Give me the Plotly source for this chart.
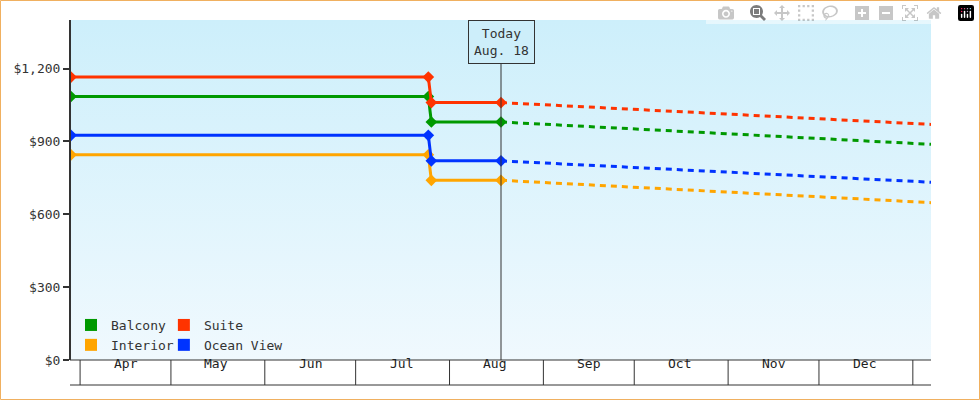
import plotly.graph_objects as go

# Data
series = ['Balcony', 'Suite', 'Interior', 'Ocean View']
colors = ['#009900', '#ff3300', '#ffa500', '#0033ff']
legend_ids = ['legend', 'legend2', 'legend', 'legend2']
hist_dates = ['2024-03-29', '2024-07-25', '2024-07-26', '2024-08-18']
balcony_hist = [1085, 1085, 980, 980]
suite_hist = [1165, 1165, 1060, 1060]
interior_hist = [845, 845, 740, 740]
ocean_hist = [925, 925, 820, 820]
proj_dates = ['2024-08-18', '2025-01-07']
balcony_proj = [980, 888]
suite_proj = [1060, 970]
interior_proj = [740, 648]
ocean_proj = [820, 732]
month_starts = ['2024-04-01', '2024-05-01', '2024-06-01', '2024-07-01', '2024-08-01',
                '2024-09-01', '2024-10-01', '2024-11-01', '2024-12-01', '2025-01-01']
month_mids = ['2024-04-16', '2024-05-16', '2024-06-16', '2024-07-16', '2024-08-16',
              '2024-09-16', '2024-10-16', '2024-11-16', '2024-12-16']
month_labels = ['Apr', 'May', 'Jun', 'Jul', 'Aug', 'Sep', 'Oct', 'Nov', 'Dec']
today = '2024-08-18'
x_range = ['2024-03-29', '2025-01-07']
y_ticks = [0, 300, 600, 900, 1200]
y_labels = ['$0', '$300', '$600', '$900', '$1,200']

hist = [balcony_hist, suite_hist, interior_hist, ocean_hist]
proj = [balcony_proj, suite_proj, interior_proj, ocean_proj]
FONT = 'DejaVu Sans Mono'

fig = go.Figure()

# gradient background
fig.add_trace(go.Scatter(
    x=[x_range[0], x_range[1], x_range[1], x_range[0], x_range[0]],
    y=[0, 0, 1400, 1400, 0], mode='lines', line=dict(width=0),
    fill='toself', fillgradient=dict(type='vertical',
                                     colorscale=[[0, '#f0f9fe'], [1, '#cdeffb']]),
    showlegend=False, hoverinfo='skip'))

for name, c, h, p in zip(series, colors, hist, proj):
    fig.add_trace(go.Scatter(x=hist_dates, y=h, mode='lines+markers',
                             line=dict(color=c, width=3),
                             marker=dict(symbol='diamond', size=9, color=c),
                             showlegend=False, name=name))
    fig.add_trace(go.Scatter(x=proj_dates, y=p, mode='lines',
                             line=dict(color=c, width=3, dash='6px,5px'),
                             showlegend=False, name=name))
for name, c, lg in zip(series, colors, legend_ids):
    fig.add_trace(go.Scatter(x=[None], y=[None], mode='markers', name=name, legend=lg,
                             marker=dict(symbol='square', size=12, color=c)))

# today line
fig.add_shape(type='line', x0=today, x1=today, xref='x', y0=0, y1=1.0, yref='paper',
              line=dict(color='#333', width=1))
fig.add_annotation(x=today, xref='x', y=1.0, yref='paper', yanchor='top',
                   text='Today<br>Aug. 18', showarrow=False, bgcolor='#cdeefa',
                   bordercolor='#333', borderwidth=1, borderpad=5,
                   font=dict(family=FONT, size=13, color='#333'))

# month boxes under the axis
H = 340.0
for d in month_starts:
    fig.add_shape(type='line', x0=d, x1=d, xref='x', y0=0, y1=-25 / H, yref='paper',
                  line=dict(color='#333', width=1))
fig.add_shape(type='line', x0=-1 / 860, x1=1, xref='paper', y0=-25 / H, y1=-25 / H,
              yref='paper', line=dict(color='#333', width=1))
fig.add_shape(type='line', x0=-1 / 860, x1=1, xref='paper', y0=0, y1=0,
              yref='paper', line=dict(color='#333', width=1))
for m, lab in zip(month_mids, month_labels):
    fig.add_annotation(x=m, xref='x', y=-12.5 / H, yref='paper', text=lab,
                       showarrow=False, font=dict(family=FONT, size=13, color='#222'))

# orange frame around the whole image
fig.add_shape(type='rect', xref='paper', yref='paper',
              x0=-70.5 / 860, x1=(860 + 48.5) / 860, y0=-39.5 / H, y1=(H + 19.5) / H,
              line=dict(color='#f0b060', width=1))

leg = dict(orientation='v', yanchor='bottom', xanchor='left', y=0.0,
           bgcolor='rgba(0,0,0,0)', tracegroupgap=0, itemwidth=30,
           font=dict(family=FONT, size=13, color='#333'))
fig.update_layout(
    width=980, height=400, margin=dict(l=71, r=49, t=20, b=40),
    paper_bgcolor='white', plot_bgcolor='white',
    font=dict(family=FONT, size=13, color='#333'),
    xaxis=dict(range=x_range, type='date', showticklabels=False, showgrid=False,
               zeroline=False, showline=False),
    yaxis=dict(range=[0, 1400], tickvals=y_ticks, ticktext=y_labels, showgrid=False,
               zeroline=False, showline=True, linecolor='#333', linewidth=2,
               ticks='outside', ticklen=6, tickwidth=2, tickcolor='#333',
               tickfont=dict(size=13)),
    legend=dict(leg, x=0.0),
    legend2=dict(leg, x=0.108),
    showlegend=True,
)

fig.write_html('out.html', post_script="document.body.style.margin='0';")
